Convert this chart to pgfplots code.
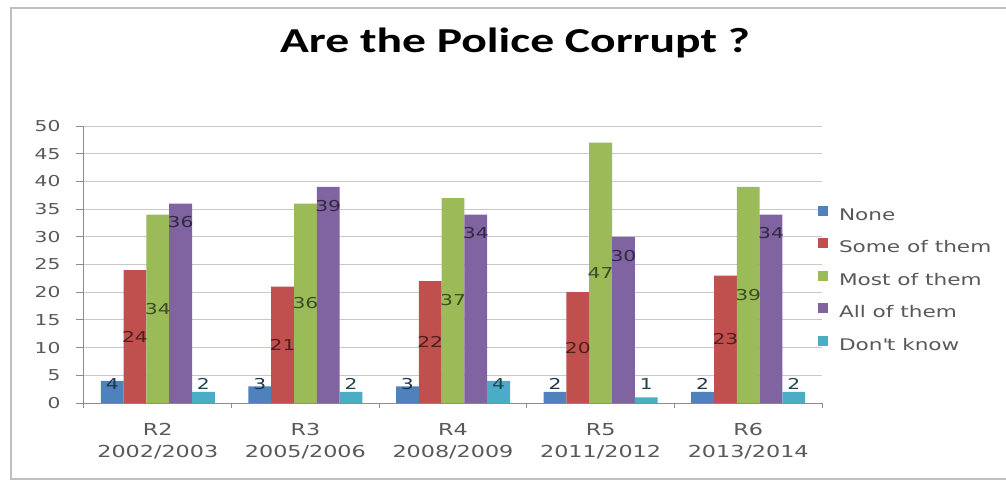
\documentclass[border=0pt]{standalone}
\usepackage{pgfplots}
\pgfplotsset{compat=1.18}
\usepackage{fontspec}
\setmainfont{DejaVu Sans}[FakeStretch=1.35]
\newfontfamily\titlefont{Carlito}[FakeStretch=1.36]
\definecolor{cNone}{HTML}{4F81BD}
\definecolor{cSome}{HTML}{C0504D}
\definecolor{cMost}{HTML}{9BBB59}
\definecolor{cAll}{HTML}{8064A2}
\definecolor{cDK}{HTML}{4BACC6}
\definecolor{textgray}{HTML}{595959}
\definecolor{axisgray}{HTML}{8C8C8C}
\definecolor{gridgray}{HTML}{C8C8C8}
\begin{document}
\begin{tikzpicture}
\useasboundingbox (0,0) rectangle (1006pt,485pt);
\fill[white] (0,0) rectangle (1006pt,485pt);
\draw[gray!50, line width=1.5pt] (11pt,477pt) rectangle (1015pt,6pt);
\node[anchor=base, font=\titlefont\bfseries\fontsize{35}{40}\selectfont] at (515pt,432pt) {Are the Police Corrupt ?};
\begin{axis}[
  at={(84pt,82pt)}, anchor=south west, scale only axis,
  width=738pt, height=277pt,
  xmin=-0.5, xmax=4.5, ymin=0, ymax=50,
  clip=false,
  axis x line*=bottom, axis y line*=left,
  axis line style={draw=axisgray, line width=1pt},
  ybar=0pt, bar width=22.8pt,
  ytick={0,5,...,50},
  xtick={0,1,2,3,4},
  xticklabels={{R2\\2002/2003},{R3\\2005/2006},{R4\\2008/2009},{R5\\2011/2012},{R6\\2013/2014}},
  minor xtick={-0.5,0.5,1.5,2.5,3.5,4.5},
  tick align=outside,
  major tick length=8pt, minor tick length=5pt,
  tick style={draw=axisgray, line width=1pt},
  major x tick style={draw=none},
  ymajorgrids, major grid style={draw=gridgray, line width=1pt},
  /pgf/number format/assume math mode=true,
  yticklabel style={font=\fontsize{15}{18}\selectfont, text=textgray, xshift=-12pt},
  xticklabel style={font=\fontsize{16.5}{22}\selectfont, text=textgray, align=center, yshift=-8.5pt},
  legend style={at={(0.9946,0.712)}, anchor=north west, draw=none, fill=none,
    inner sep=0pt, outer sep=0pt, font=\fontsize{16}{19}\selectfont, text=textgray,
    row sep=14pt, column sep=11pt,
    nodes={inner sep=0pt, text height=12pt, text depth=4pt}},
  legend cell align=left,
  legend image code/.code={\fill[#1] (0pt,0.5pt) rectangle (10pt,10.5pt);},
  visualization depends on={rawy \as \rawy},
]
\addplot[fill=cNone, draw=none, nodes near coords,
  nodes near coords style={font=\fontsize{15}{18}\selectfont, text=cNone!40!black, anchor=center, yshift={((3.5-\rawy)*5.54)*1pt}}]
  coordinates {(0,4) (1,3) (2,3) (3,2) (4,2)};
\addlegendentry{None}
\addplot[fill=cSome, draw=none, nodes near coords,
  nodes near coords style={font=\fontsize{15}{18}\selectfont, text=cSome!40!black, anchor=center, yshift={(-\rawy*2.77)*1pt}}]
  coordinates {(0,24) (1,21) (2,22) (3,20) (4,23)};
\addlegendentry{Some of them}
\addplot[fill=cMost, draw=none, nodes near coords,
  nodes near coords style={font=\fontsize{15}{18}\selectfont, text=cMost!40!black, anchor=center, yshift={(-\rawy*2.77)*1pt}}]
  coordinates {(0,34) (1,36) (2,37) (3,47) (4,39)};
\addlegendentry{Most of them}
\addplot[fill=cAll, draw=none, nodes near coords,
  nodes near coords style={font=\fontsize{15}{18}\selectfont, text=cAll!40!black, anchor=center, yshift=-18.8pt}]
  coordinates {(0,36) (1,39) (2,34) (3,30) (4,34)};
\addlegendentry{All of them}
\addplot[fill=cDK, draw=none, nodes near coords,
  nodes near coords style={font=\fontsize{15}{18}\selectfont, text=cDK!40!black, anchor=center, yshift={((3.5-\rawy)*5.54)*1pt}}]
  coordinates {(0,2) (1,2) (2,4) (3,1) (4,2)};
\addlegendentry{Don\textquotesingle t know}
\end{axis}
\end{tikzpicture}
\end{document}
